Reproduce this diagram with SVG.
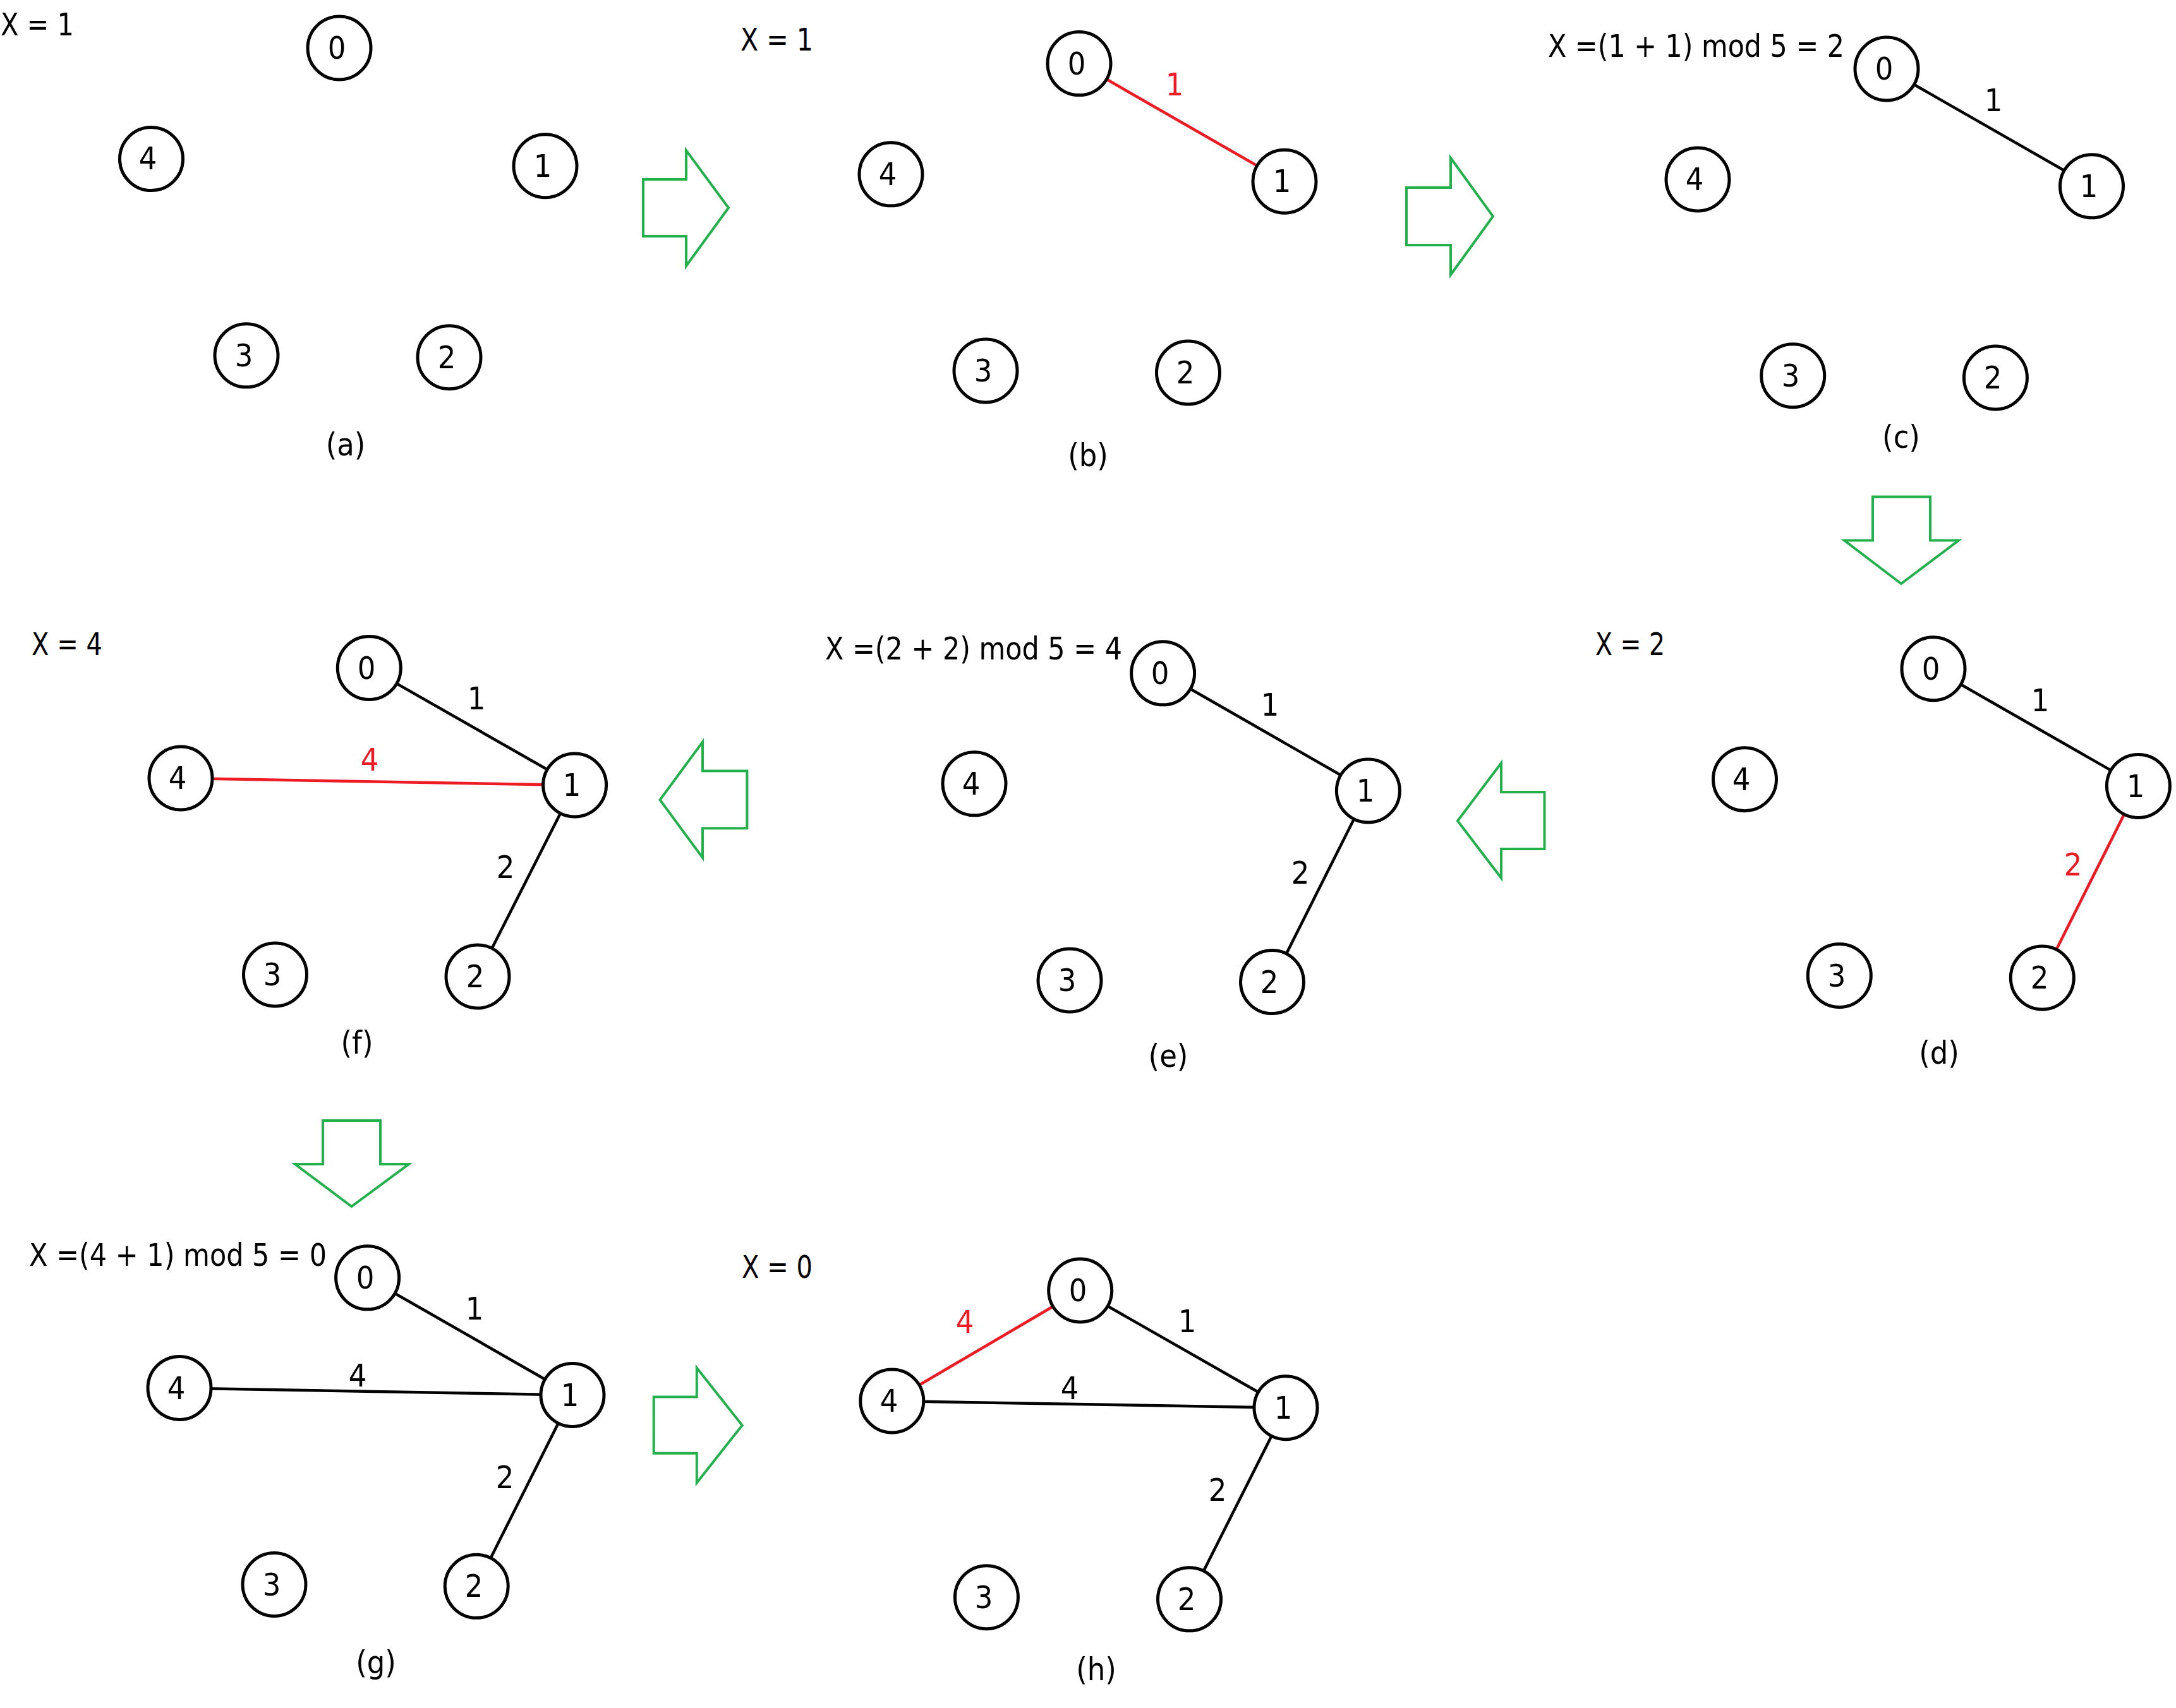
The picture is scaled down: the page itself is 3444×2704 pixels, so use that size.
<svg xmlns="http://www.w3.org/2000/svg" width="3444" height="2704" viewBox="0 0 3444 2704">
<style>
text{font-family:"DejaVu Sans Condensed","DejaVu Sans","Liberation Sans",sans-serif;font-stretch:condensed;font-size:50px;fill:#000}
.n circle{fill:#fff;stroke:#000;stroke-width:5}
.n text{text-anchor:middle}
.e{stroke:#000;stroke-width:4.5;fill:none}
.r{stroke:#ED1C24}
.el{text-anchor:middle}
.rt{fill:#ED1C24}
.cap{text-anchor:middle}
.arr{fill:none;stroke:#22B14C;stroke-width:4;stroke-linejoin:miter}
</style>
<rect width="3444" height="2704" fill="#fff"/>

<g id="connectors">
  <line class="e r" x1="1708" y1="100.6" x2="2033" y2="287.2"/>
  <line class="e" x1="2986" y1="109" x2="3310.5" y2="294.8"/>
  <line class="e" x1="3060" y1="1058.7" x2="3384.4" y2="1244.4"/>
  <line class="e r" x1="3384.4" y1="1244.4" x2="3232.3" y2="1548"/>
  <line class="e" x1="1840.6" y1="1065.8" x2="2165.4" y2="1252"/>
  <line class="e" x1="2165.4" y1="1252" x2="2013.5" y2="1554.6"/>
  <line class="e" x1="584.3" y1="1057.4" x2="909.6" y2="1243"/>
  <line class="e r" x1="286" y1="1232" x2="909.6" y2="1243"/>
  <line class="e" x1="909.6" y1="1243" x2="756" y2="1546"/>
  <line class="e" x1="581.6" y1="2022.8" x2="906" y2="2208.5"/>
  <line class="e" x1="284" y1="2197.4" x2="906" y2="2208.5"/>
  <line class="e" x1="906" y1="2208.5" x2="754.2" y2="2511.3"/>
  <line class="e" x1="1709.7" y1="2043" x2="2035" y2="2228.7"/>
  <line class="e" x1="1411.8" y1="2218" x2="2035" y2="2228.7"/>
  <line class="e" x1="2035" y1="2228.7" x2="1882.5" y2="2531.8"/>
  <line class="e r" x1="1411.8" y1="2218" x2="1709.7" y2="2043"/>

  <text class="el rt" x="1859" y="151">1</text>
  <text class="el" x="3155" y="176">1</text>
  <text class="el" x="3229" y="1126">1</text>
  <text class="el rt" x="3281" y="1386">2</text>
  <text class="el" x="2010" y="1133">1</text>
  <text class="el" x="2058" y="1399">2</text>
  <text class="el" x="754" y="1123">1</text>
  <text class="el rt" x="585" y="1220">4</text>
  <text class="el" x="800" y="1390">2</text>
  <text class="el" x="751" y="2089">1</text>
  <text class="el" x="566" y="2195">4</text>
  <text class="el" x="799" y="2356">2</text>
  <text class="el" x="1879" y="2109">1</text>
  <text class="el" x="1693" y="2215">4</text>
  <text class="el" x="1927" y="2376">2</text>
  <text class="el rt" x="1527" y="2110">4</text>

  <polygon id="arrow-ab" class="arr" points="1018,284 1086,284 1086,238 1153,329 1086,421 1086,374 1018,374"/>
  <polygon id="arrow-bc" class="arr" points="2226,297 2296,297 2296,250 2363,342.5 2296,435 2296,388 2226,388"/>
  <polygon id="arrow-cd" class="arr" points="2964,786.5 3055,786.5 3055,855.5 3100,855.5 3009,924 2919,855.5 2964,855.5"/>
  <polygon id="arrow-de" class="arr" points="2444.5,1254 2376,1254 2376,1208 2307,1299.5 2376,1390 2376,1344 2444.5,1344"/>
  <polygon id="arrow-ef" class="arr" points="1182.4,1220.4 1112,1220.4 1112,1174.5 1044.6,1266.3 1112,1358 1112,1311.2 1182.4,1311.2"/>
  <polygon id="arrow-fg" class="arr" points="511,1774 602,1774 602,1843 647,1843 556.4,1910 467,1843 511,1843"/>
  <polygon id="arrow-gh" class="arr" points="1034.7,2211.6 1102.8,2211.6 1102.8,2165.4 1174.7,2256.4 1102.8,2347.4 1102.8,2300.7 1034.7,2300.7"/>
</g>

<g id="panel-a">
  <text x="1" y="56" textLength="116" lengthAdjust="spacingAndGlyphs">X = 1</text>
  <text class="cap" x="547" y="721">(a)</text>
  <g id="a-n0" class="n"><circle cx="537" cy="76" r="50"/><text x="533" y="93">0</text></g>
  <g id="a-n1" class="n"><circle cx="863" cy="262.7" r="50"/><text x="859" y="280">1</text></g>
  <g id="a-n2" class="n"><circle cx="711" cy="565.7" r="50"/><text x="707" y="583">2</text></g>
  <g id="a-n3" class="n"><circle cx="390" cy="562.8" r="50"/><text x="386" y="580">3</text></g>
  <g id="a-n4" class="n"><circle cx="239.5" cy="251.6" r="50"/><text x="234" y="268">4</text></g>
</g>

<g id="panel-b">
  <text x="1172" y="80" textLength="115" lengthAdjust="spacingAndGlyphs">X = 1</text>
  <text class="cap" x="1722" y="738">(b)</text>
  <g id="b-n0" class="n"><circle cx="1708" cy="100.6" r="50"/><text x="1704" y="118">0</text></g>
  <g id="b-n1" class="n"><circle cx="2033" cy="287.2" r="50"/><text x="2029" y="304">1</text></g>
  <g id="b-n2" class="n"><circle cx="1880.5" cy="590" r="50"/><text x="1876" y="607">2</text></g>
  <g id="b-n3" class="n"><circle cx="1560" cy="587" r="50"/><text x="1556" y="604">3</text></g>
  <g id="b-n4" class="n"><circle cx="1410" cy="275.8" r="50"/><text x="1405" y="293">4</text></g>
</g>

<g id="panel-c">
  <text x="2450" y="90" textLength="469" lengthAdjust="spacingAndGlyphs">X =(1 + 1) mod 5 = 2</text>
  <text class="cap" x="3009" y="709">(c)</text>
  <g id="c-n0" class="n"><circle cx="2986" cy="109" r="50"/><text x="2982" y="126">0</text></g>
  <g id="c-n1" class="n"><circle cx="3310.5" cy="294.8" r="50"/><text x="3306" y="312">1</text></g>
  <g id="c-n2" class="n"><circle cx="3158.4" cy="598" r="50"/><text x="3154" y="615">2</text></g>
  <g id="c-n3" class="n"><circle cx="2837.7" cy="594.7" r="50"/><text x="2834" y="612">3</text></g>
  <g id="c-n4" class="n"><circle cx="2687" cy="284" r="50"/><text x="2682" y="301">4</text></g>
</g>

<g id="panel-d">
  <text x="2525" y="1037" textLength="110" lengthAdjust="spacingAndGlyphs">X = 2</text>
  <text class="cap" x="3069" y="1684">(d)</text>
  <g id="d-n0" class="n"><circle cx="3060" cy="1058.7" r="50"/><text x="3056" y="1076">0</text></g>
  <g id="d-n1" class="n"><circle cx="3384.4" cy="1244.4" r="50"/><text x="3380" y="1262">1</text></g>
  <g id="d-n2" class="n"><circle cx="3232.3" cy="1548" r="50"/><text x="3228" y="1565">2</text></g>
  <g id="d-n3" class="n"><circle cx="2911.3" cy="1544.4" r="50"/><text x="2907" y="1562">3</text></g>
  <g id="d-n4" class="n"><circle cx="2761.5" cy="1233.7" r="50"/><text x="2756" y="1251">4</text></g>
</g>

<g id="panel-e">
  <text x="1306" y="1044" textLength="470" lengthAdjust="spacingAndGlyphs">X =(2 + 2) mod 5 = 4</text>
  <text class="cap" x="1849" y="1689">(e)</text>
  <g id="e-n0" class="n"><circle cx="1840.6" cy="1065.8" r="50"/><text x="1836" y="1083">0</text></g>
  <g id="e-n1" class="n"><circle cx="2165.4" cy="1252" r="50"/><text x="2161" y="1269">1</text></g>
  <g id="e-n2" class="n"><circle cx="2013.5" cy="1554.6" r="50"/><text x="2009" y="1572">2</text></g>
  <g id="e-n3" class="n"><circle cx="1693" cy="1552" r="50"/><text x="1689" y="1569">3</text></g>
  <g id="e-n4" class="n"><circle cx="1542" cy="1240.8" r="50"/><text x="1537" y="1258">4</text></g>
</g>

<g id="panel-f">
  <text x="50" y="1037" textLength="112" lengthAdjust="spacingAndGlyphs">X = 4</text>
  <text class="cap" x="565" y="1668">(f)</text>
  <g id="f-n0" class="n"><circle cx="584.3" cy="1057.4" r="50"/><text x="580" y="1075">0</text></g>
  <g id="f-n1" class="n"><circle cx="909.6" cy="1243" r="50"/><text x="905" y="1260">1</text></g>
  <g id="f-n2" class="n"><circle cx="756" cy="1546" r="50"/><text x="752" y="1563">2</text></g>
  <g id="f-n3" class="n"><circle cx="435.5" cy="1543" r="50"/><text x="431" y="1560">3</text></g>
  <g id="f-n4" class="n"><circle cx="286" cy="1232" r="50"/><text x="281" y="1249">4</text></g>
</g>

<g id="panel-g">
  <text x="46" y="2004" textLength="471" lengthAdjust="spacingAndGlyphs">X =(4 + 1) mod 5 = 0</text>
  <text class="cap" x="595" y="2649">(g)</text>
  <g id="g-n0" class="n"><circle cx="581.6" cy="2022.8" r="50"/><text x="578" y="2040">0</text></g>
  <g id="g-n1" class="n"><circle cx="906" cy="2208.5" r="50"/><text x="902" y="2226">1</text></g>
  <g id="g-n2" class="n"><circle cx="754.2" cy="2511.3" r="50"/><text x="750" y="2528">2</text></g>
  <g id="g-n3" class="n"><circle cx="434" cy="2508.5" r="50"/><text x="430" y="2526">3</text></g>
  <g id="g-n4" class="n"><circle cx="284" cy="2197.4" r="50"/><text x="279" y="2215">4</text></g>
</g>

<g id="panel-h">
  <text x="1174" y="2023" textLength="112" lengthAdjust="spacingAndGlyphs">X = 0</text>
  <text class="cap" x="1735" y="2660">(h)</text>
  <g id="h-n0" class="n"><circle cx="1709.7" cy="2043" r="50"/><text x="1706" y="2060">0</text></g>
  <g id="h-n1" class="n"><circle cx="2035" cy="2228.7" r="50"/><text x="2031" y="2246">1</text></g>
  <g id="h-n2" class="n"><circle cx="1882.5" cy="2531.8" r="50"/><text x="1878" y="2549">2</text></g>
  <g id="h-n3" class="n"><circle cx="1561.4" cy="2528.7" r="50"/><text x="1557" y="2546">3</text></g>
  <g id="h-n4" class="n"><circle cx="1411.8" cy="2218" r="50"/><text x="1407" y="2235">4</text></g>
</g>
</svg>
